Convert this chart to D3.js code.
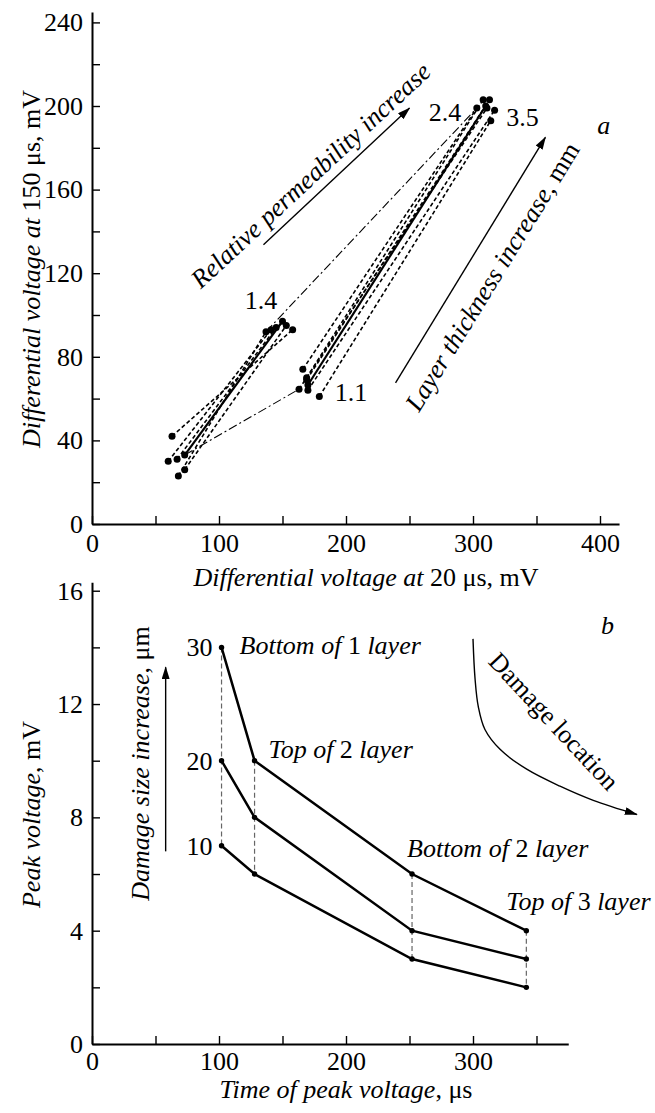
<!DOCTYPE html>
<html>
<head>
<meta charset="utf-8">
<script src="https://cdnjs.cloudflare.com/ajax/libs/d3/7.8.5/d3.min.js"></script>
<style>
body { margin: 0; background: #fff; }
text { font-family: "Liberation Serif", "Times New Roman", serif; fill: #000; }
</style>
</head>
<body>
<div class="chart"></div>
<script>
//panel a: differential voltage at 20 us (x) vs at 150 us (y), mV
//left bundle, lower end and upper end of every line
var leftLowX = [63, 60, 67, 73, 73, 68];
var leftLowY = [42, 30, 31, 33, 26, 23];
var leftHighX = [158, 141, 145, 150, 153, 137];
var leftHighY = [93, 93, 94, 97, 95, 92];
var leftKind = ["dash", "dash", "dash", "solid", "dash", "dash"];

//right bundle
var rightLowX = [166, 169, 169, 163, 170, 179, 170];
var rightLowY = [74, 70, 69, 64.5, 64, 61, 66.5];
var rightHighX = [303, 308, 313, 311, 317, 314, 310];
var rightHighY = [199, 203, 203, 199, 198, 193, 200];
var rightKind = ["dash", "dash", "dash", "dash", "dash", "dash", "solid"];

//dash-dot links between the two bundles
var linkFromX = [137, 73];
var linkFromY = [92, 33];
var linkToX = [303, 163];
var linkToY = [199, 64.5];

//numbers written next to the bundles
var bundleLabels = ["1.4", "2.4", "3.5", "1.1"];
var bundleLabelX = [133, 278, 339, 204];
var bundleLabelY = [107, 197, 195, 63];

var aXTicks = [0, 50, 100, 150, 200, 250, 300, 350, 400];
var aYTicks = [0, 20, 40, 60, 80, 100, 120, 140, 160, 180, 200, 220, 240];

//panel b: peak voltage (mV) vs time of peak voltage (us)
var peakTime = [102, 128, 252, 342];
var damageSizes = ["30", "20", "10"];
var peak30 = [14, 10, 6, 4];
var peak20 = [10, 8, 4, 3];
var peak10 = [7, 6, 3, 2];
var locationNames = [["Bottom of ", "1", " layer"], ["Top of ", "2", " layer"], ["Bottom of ", "2", " layer"], ["Top of ", "3", " layer"]];

var bXTicks = [0, 50, 100, 150, 200, 250, 300, 350];
var bYTicks = [0, 2, 4, 6, 8, 10, 12, 14, 16];

//curved "damage location" arrow, in panel b units
var curveT = [300, 301.6, 304.2, 309.4, 321.3, 342.3, 368.5, 394.7, 429];
var curveV = [14.3, 12.9, 11.9, 11.1, 10.4, 9.7, 9.1, 8.6, 8.1];

var svgWidth = 655;
var svgHeight = 1113;
var fontSize = 26;

var svg = d3.select(".chart").append("svg")
    .attr("width", svgWidth)
    .attr("height", svgHeight);

//arrow head
svg.append("defs").append("marker")
    .attr("id", "head")
    .attr("viewBox", "0 0 13 8")
    .attr("refX", 12)
    .attr("refY", 4)
    .attr("markerWidth", 13)
    .attr("markerHeight", 8)
    .attr("markerUnits", "userSpaceOnUse")
    .attr("orient", "auto")
    .append("path")
    .attr("d", "M0,0 L13,4 L0,8 z")
    .attr("fill", "#000");

//scales, both panels share the horizontal step
var xA = d3.scaleLinear().domain([0, 415]).range([92, 92 + 1.27 * 415]);
var yA = d3.scaleLinear().domain([0, 245]).range([524, 524 - 2.09 * 245]);
var xB = d3.scaleLinear().domain([0, 375]).range([92, 92 + 1.27 * 375]);
var yB = d3.scaleLinear().domain([0, 16.3]).range([1044, 1044 - 28.33 * 16.3]);

//axes, ticks point inwards
function styleAxis(g) {
    g.attr("font-size", fontSize).attr("font-family", null);
    g.select(".domain").attr("stroke-width", 2);
    g.selectAll(".tick line").attr("stroke-width", 1.4);
}

svg.append("g")
    .attr("transform", `translate(0, ${yA(0)})`)
    .call(d3.axisBottom(xA).tickValues(aXTicks).tickSize(-8).tickSizeOuter(0).tickPadding(10)
        .tickFormat(d => d % 100 === 0 ? d : ""))
    .call(styleAxis);

svg.append("g")
    .attr("transform", `translate(${xA(0)}, 0)`)
    .call(d3.axisLeft(yA).tickValues(aYTicks).tickSize(-8).tickSizeOuter(0).tickPadding(9)
        .tickFormat(d => d % 40 === 0 ? d : ""))
    .call(styleAxis);

svg.append("g")
    .attr("transform", `translate(0, ${yB(0)})`)
    .call(d3.axisBottom(xB).tickValues(bXTicks).tickSize(-8).tickSizeOuter(0).tickPadding(8)
        .tickFormat(d => d % 100 === 0 ? d : ""))
    .call(styleAxis);

svg.append("g")
    .attr("transform", `translate(${xB(0)}, 0)`)
    .call(d3.axisLeft(yB).tickValues(bYTicks).tickSize(-8).tickSizeOuter(0).tickPadding(9)
        .tickFormat(d => d % 4 === 0 ? d : ""))
    .call(styleAxis);

//text made of italic and upright pieces
function richText(x, y, parts, angle, anchor) {
    var t = svg.append("text")
        .attr("transform", `translate(${x}, ${y}) rotate(${angle || 0})`)
        .attr("text-anchor", anchor || "middle")
        .attr("font-size", fontSize);
    parts.forEach(function(p) {
        t.append("tspan")
            .attr("font-style", p[1] ? "italic" : "normal")
            .text(p[0]);
    });
    return t;
}

//axis titles
richText(366, 586, [["Differential voltage at ", true], ["20 \u03bcs, mV", false]]);
richText(40, yA(122), [["Differential voltage at ", true], ["150 \u03bcs, mV", false]], -90);
richText(346, 1098, [["Time of peak voltage", true], [", \u03bcs", false]]);
richText(40, yB(8.1), [["Peak voltage", true], [", mV", false]], -90);

//panel a lines
var segments = [];
leftLowX.forEach(function(d, i) {
    segments.push({x1: d, y1: leftLowY[i], x2: leftHighX[i], y2: leftHighY[i], kind: leftKind[i]});
});
rightLowX.forEach(function(d, i) {
    segments.push({x1: d, y1: rightLowY[i], x2: rightHighX[i], y2: rightHighY[i], kind: rightKind[i]});
});
linkFromX.forEach(function(d, i) {
    segments.push({x1: d, y1: linkFromY[i], x2: linkToX[i], y2: linkToY[i], kind: "dashdot"});
});

svg.append("g").selectAll("line")
    .data(segments)
    .enter()
    .append("line")
    .attr("x1", d => xA(d.x1))
    .attr("y1", d => yA(d.y1))
    .attr("x2", d => xA(d.x2))
    .attr("y2", d => yA(d.y2))
    .attr("stroke", "#000")
    .attr("stroke-width", d => d.kind === "solid" ? 2.2 : (d.kind === "dash" ? 1.6 : 1.1))
    .attr("stroke-dasharray", d => d.kind === "solid" ? null : (d.kind === "dash" ? "4,2.5" : "9,3,2,3"));

//panel a dots
var dotsA = [];
segments.filter(d => d.kind !== "dashdot").forEach(function(d) {
    dotsA.push([d.x1, d.y1]);
    dotsA.push([d.x2, d.y2]);
});
svg.append("g").selectAll("circle")
    .data(dotsA)
    .enter()
    .append("circle")
    .attr("cx", d => xA(d[0]))
    .attr("cy", d => yA(d[1]))
    .attr("r", 3.5)
    .attr("fill", "#000");

//bundle numbers
svg.append("g").selectAll("text")
    .data(bundleLabels)
    .enter()
    .append("text")
    .attr("x", (d, i) => xA(bundleLabelX[i]))
    .attr("y", (d, i) => yA(bundleLabelY[i]))
    .attr("dy", "0.35em")
    .attr("text-anchor", "middle")
    .attr("font-size", fontSize)
    .text(d => d);

//panel a arrows and notes
svg.append("line")
    .attr("x1", xA(135)).attr("y1", yA(133.6))
    .attr("x2", xA(250)).attr("y2", yA(199))
    .attr("stroke", "#000").attr("stroke-width", 1.4)
    .attr("marker-end", "url(#head)");
richText(xA(172), yA(167), [["Relative permeability increase", true]], -43)
    .attr("dy", "0.35em");

svg.append("line")
    .attr("x1", xA(239)).attr("y1", yA(67.5))
    .attr("x2", xA(357)).attr("y2", yA(185))
    .attr("stroke", "#000").attr("stroke-width", 1.4)
    .attr("marker-end", "url(#head)");
richText(xA(315), yA(118.5), [["Layer thickness increase", true], [", mm", false]], -58.5)
    .attr("dy", "0.35em");

richText(xA(403), yA(191), [["a", true]]).attr("dy", "0.35em");

//panel b: dashed guides between largest and smallest damage
svg.append("g").selectAll("line")
    .data(peakTime)
    .enter()
    .append("line")
    .attr("x1", d => xB(d))
    .attr("x2", d => xB(d))
    .attr("y1", (d, i) => yB(peak30[i]))
    .attr("y2", (d, i) => yB(peak10[i]))
    .attr("stroke", "#666")
    .attr("stroke-width", 1.2)
    .attr("stroke-dasharray", "5,3");

var seriesB = [peak30, peak20, peak10];
var lineB = d3.line()
    .x((d, i) => xB(peakTime[i]))
    .y(d => yB(d));

svg.append("g").selectAll("path")
    .data(seriesB)
    .enter()
    .append("path")
    .attr("d", lineB)
    .attr("fill", "none")
    .attr("stroke", "#000")
    .attr("stroke-width", 2.5);

seriesB.forEach(function(s) {
    svg.append("g").selectAll("circle")
        .data(s)
        .enter()
        .append("circle")
        .attr("cx", (d, i) => xB(peakTime[i]))
        .attr("cy", d => yB(d))
        .attr("r", 2.7)
        .attr("fill", "#000");
});

//damage size labels at the first points
svg.append("g").selectAll("text")
    .data(damageSizes)
    .enter()
    .append("text")
    .attr("x", xB(peakTime[0]) - 9)
    .attr("y", (d, i) => yB(seriesB[i][0]))
    .attr("dy", "0.35em")
    .attr("text-anchor", "end")
    .attr("font-size", fontSize)
    .text(d => d);

//damage location labels, placed from the top series
var locDx = [18, 14, -5, -20];
var locDy = [7, -3, -17, -21];
locationNames.forEach(function(n, i) {
    richText(xB(peakTime[i]) + locDx[i], yB(peak30[i]) + locDy[i],
        [[n[0], true], [n[1], false], [n[2], true]], 0, "start");
});

//damage size arrow
svg.append("line")
    .attr("x1", xB(58)).attr("y1", yB(6.8))
    .attr("x2", xB(58)).attr("y2", yB(13.3))
    .attr("stroke", "#000").attr("stroke-width", 1.4)
    .attr("marker-end", "url(#head)");
richText(xB(37.8), yB(9.9), [["Damage size increase", true], [", \u03bcm", false]], -90)
    .attr("dy", "0.35em");

//damage location arrow
var curveLine = d3.line()
    .x(d => xB(d))
    .y((d, i) => yB(curveV[i]))
    .curve(d3.curveCatmullRom);
svg.append("path")
    .attr("d", curveLine(curveT))
    .attr("fill", "none")
    .attr("stroke", "#000")
    .attr("stroke-width", 1.4)
    .attr("marker-end", "url(#head)");
richText(xB(364), yB(11.4), [["Damage location", false]], 47).attr("dy", "0.35em");

richText(xB(406), yB(14.8), [["b", true]]).attr("dy", "0.35em");
</script>
</body>
</html>
